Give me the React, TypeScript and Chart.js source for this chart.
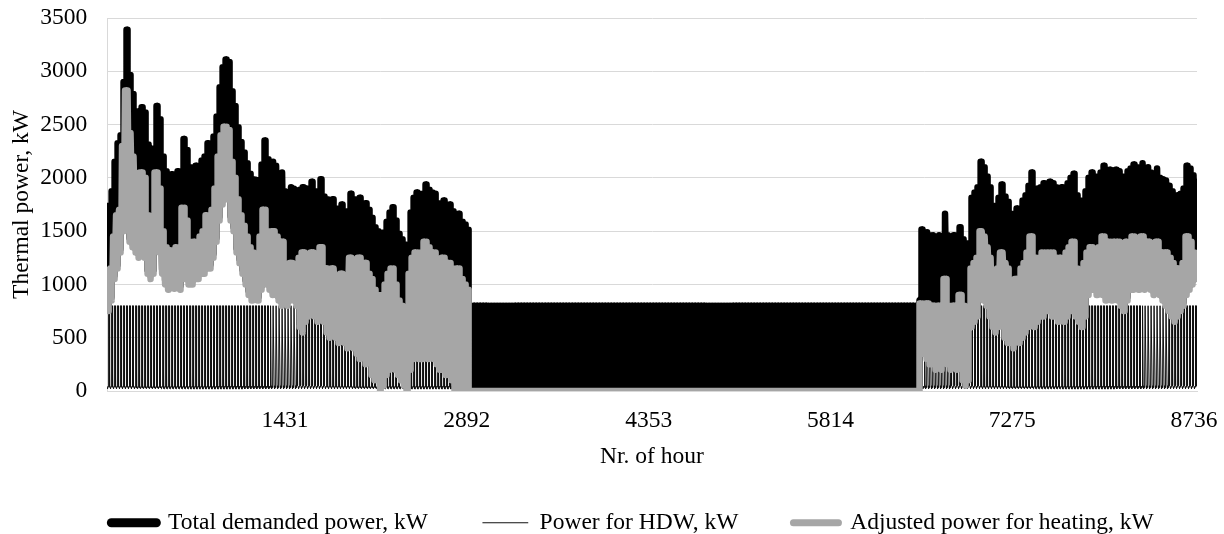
import { useEffect, useRef } from 'react';
import { Chart, registerables } from 'chart.js';

Chart.register(...registerables);

// ---- Data ----
const xTickHours = [1431, 2892, 4353, 5814, 7275, 8736];
const yMax = 3500;
const yStep = 500;
const hoursInYear = 8760;

// Typical daily profile of hot domestic water demand, kW (hour 0..23)
const hdwDayProfile = [30, 25, 20, 20, 20, 25, 30, 40, 40, 35, 40, 45, 40, 35, 800, 800, 800, 800, 800, 800, 800, 800, 50, 40];
// Share of the daily heating swing (0 = daily low, 1 = daily high) for each hour of the day
const heatDayShape = [1, 1, 1, 1, 1, 1, 1, 1, 1, 1, 0, 0, 0, 0, 0.75, 0.75, 0.75, 0.75, 0.75, 0.75, 0.75, 0.75, 1, 1];

// Heating season 1: days 0..120 (daily low / high heating power, kW)
const winterHeatLow = [
  750, 850, 1050, 1150, 1300, 1500, 1900, 1400, 1350, 1300,
  1250, 1300, 1250, 1100, 1050, 1100, 1350, 1300, 1100, 1000,
  950, 980, 960, 1000, 950, 1100, 1050, 1000, 1000, 1050,
  1050, 1100, 1100, 1150, 1150, 1250, 1400, 1600, 1750, 1800,
  1800, 1600, 1500, 1300, 1200, 1100, 1000, 900, 850, 880,
  850, 950, 1100, 1000, 950, 900, 900, 850, 800, 850,
  800, 850, 850, 800, 600, 550, 650, 700, 750, 700,
  650, 700, 650, 550, 500, 550, 500, 450, 500, 450,
  400, 450, 400, 350, 300, 350, 250, 300, 150, 100,
  100, 0, 50, 150, 200, 250, 200, 150, 100, 50,
  0, 200, 300, 350, 300, 300, 350, 300, 350, 300,
  250, 200, 200, 150, 200, 100, 0, 0, 0, 50,
  0,
];
const winterHeatHigh = [
  1000, 1150, 1450, 1650, 1700, 2300, 2820, 2420, 2200, 2000,
  1900, 2050, 2000, 1650, 1550, 1600, 2050, 1900, 1500, 1350,
  1300, 1320, 1300, 1350, 1300, 1720, 1600, 1400, 1350, 1400,
  1380, 1450, 1500, 1650, 1550, 1700, 1900, 2200, 2400, 2480,
  2450, 2150, 2000, 1800, 1650, 1550, 1450, 1350, 1300, 1280,
  1250, 1450, 1700, 1500, 1450, 1500, 1450, 1350, 1400, 1150,
  1150, 1200, 1180, 1150, 1250, 1300, 1250, 1200, 1300, 1200,
  1150, 1350, 1150, 1150, 1100, 1150, 1050, 1000, 1100, 1000,
  1050, 1250, 1200, 1150, 1250, 1150, 1200, 1100, 1050, 950,
  900, 850, 900, 1000, 1100, 1150, 1000, 850, 800, 750,
  750, 1100, 1250, 1300, 1250, 1300, 1400, 1350, 1300, 1300,
  1200, 1200, 1250, 1150, 1200, 1150, 1100, 1150, 1050, 1000,
  950,
];

// Heating season 2: days 272..364 (daily low / high heating power, kW)
const autumnStartDay = 272;
const autumnHeatLow = [
  400, 350, 300, 250, 250, 200, 250, 200, 300, 250,
  200, 250, 200, 250, 100, 50, 100, 600, 650, 700,
  900, 850, 800, 700, 600, 550, 600, 650, 500, 450,
  450, 400, 500, 450, 500, 550, 600, 650, 600, 650,
  700, 700, 750, 750, 700, 700, 650, 700, 650, 700,
  750, 750, 700, 650, 600, 700, 900, 950, 950, 900,
  950, 900, 850, 900, 850, 900, 850, 800, 750, 850,
  950, 950, 1000, 950, 1000, 950, 1000, 950, 900, 950,
  900, 850, 800, 750, 700, 650, 700, 750, 800, 900,
  950, 1000, 1050,
];
const autumnHeatHigh = [
  820, 800, 820, 800, 800, 780, 800, 780, 1050, 800,
  780, 800, 750, 900, 800, 700, 750, 1150, 1200, 1250,
  1500, 1450, 1350, 1250, 1050, 1000, 1150, 1300, 1200, 1150,
  1000, 950, 1050, 1000, 1150, 1200, 1300, 1450, 1250, 1250,
  1250, 1300, 1250, 1300, 1300, 1250, 1250, 1250, 1250, 1300,
  1350, 1400, 1150, 1100, 1100, 1200, 1300, 1350, 1300, 1300,
  1350, 1450, 1400, 1400, 1350, 1400, 1400, 1350, 1350, 1400,
  1400, 1450, 1400, 1400, 1450, 1350, 1400, 1350, 1350, 1400,
  1300, 1300, 1300, 1250, 1200, 1100, 1150, 1150, 1200, 1450,
  1400, 1300, 1200,
];

const seriesLabels = ['Total demanded power, kW', 'Power for HDW, kW', 'Adjusted power for heating, kW'];
const seriesColors = ['#000000', '#111111', '#a6a6a6'];

// ---- Build hourly table from the daily readings ----
function heatingAt(day: number, hour: number): number {
  let lo: number;
  let hi: number;
  if (day < winterHeatLow.length) {
    lo = winterHeatLow[day];
    hi = winterHeatHigh[day];
  } else if (day >= autumnStartDay && day - autumnStartDay < autumnHeatLow.length) {
    lo = autumnHeatLow[day - autumnStartDay];
    hi = autumnHeatHigh[day - autumnStartDay];
  } else {
    return 0;
  }
  return lo + (hi - lo) * heatDayShape[hour];
}

function buildSeries() {
  const total: { x: number; y: number }[] = [];
  const hdw: { x: number; y: number }[] = [];
  const heat: { x: number; y: number }[] = [];
  for (let h = 0; h < hoursInYear; h++) {
    const day = Math.floor(h / 24);
    const hour = h % 24;
    const q = heatingAt(day, hour);
    const w = hdwDayProfile[hour];
    total.push({ x: h + 1, y: q + w });
    hdw.push({ x: h + 1, y: w });
    heat.push({ x: h + 1, y: q });
  }
  return { total, hdw, heat };
}

const FONT = { family: "'Liberation Serif', 'Times New Roman', serif", size: 23.5 };
const Y_AXIS_WIDTH = 103;
const X_AXIS_HEIGHT = 84;
const LEGEND_HEIGHT = 59;
const LEGEND_DX = 32;
const LEGEND_DY = -19;

const legendTweak = {
  id: 'legendTweak',
  beforeInit(chart: any) {
    const lg = chart.legend;
    if (!lg) return;
    const orig = lg.fit;
    lg.fit = function () {
      orig.call(this);
      this.height = LEGEND_HEIGHT;
    };
  },
  afterLayout(chart: any) {
    const lg = chart.legend;
    if (!lg) return;
    lg.left += LEGEND_DX;
    lg.right += LEGEND_DX;
    lg.top += LEGEND_DY;
  },
};

export default function App() {
  const canvasRef = useRef<HTMLCanvasElement | null>(null);

  useEffect(() => {
    const canvas = canvasRef.current;
    if (!canvas) return;
    const { total, hdw, heat } = buildSeries();
    const legendWidths = [9, 1, 7];

    const chart = new Chart(canvas, {
      type: 'line',
      data: {
        datasets: [
          {
            label: seriesLabels[0],
            data: total,
            borderColor: seriesColors[0],
            backgroundColor: seriesColors[0],
            borderWidth: 6.5,
            pointRadius: 0,
            pointStyle: 'line',
            borderJoinStyle: 'round',
            borderCapStyle: 'round',
            order: 1,
          },
          {
            label: seriesLabels[1],
            data: hdw,
            borderColor: seriesColors[1],
            backgroundColor: seriesColors[1],
            borderWidth: 1,
            pointRadius: 0,
            pointStyle: 'line',
            borderJoinStyle: 'round',
            order: 2,
          },
          {
            label: seriesLabels[2],
            data: heat,
            borderColor: seriesColors[2],
            backgroundColor: seriesColors[2],
            borderWidth: 6.5,
            pointRadius: 0,
            pointStyle: 'line',
            borderJoinStyle: 'round',
            borderCapStyle: 'round',
            order: 0,
          },
        ],
      },
      options: {
        animation: false,
        responsive: true,
        maintainAspectRatio: false,
        parsing: false,
        normalized: true,
        events: [],
        layout: { padding: { left: 4, right: 27, top: 18, bottom: 0 } },
        scales: {
          x: {
            type: 'linear',
            min: 0,
            max: hoursInYear,
            afterBuildTicks: (scale: any) => {
              scale.ticks = xTickHours.map((v) => ({ value: v }));
            },
            afterFit: (scale: any) => {
              scale.height = X_AXIS_HEIGHT;
              scale.paddingLeft = 0;
              scale.paddingRight = 0;
            },
            grid: { display: false, drawTicks: false },
            border: { display: true, color: '#d9d9d9', width: 1 },
            ticks: {
              font: FONT,
              color: '#000',
              padding: 15.9,
              maxRotation: 0,
              autoSkip: false,
              callback: (v: any) => String(v),
            },
            title: {
              display: true,
              text: 'Nr. of hour',
              font: FONT,
              color: '#000',
              padding: { top: 4, bottom: 4 },
            },
          },
          y: {
            min: 0,
            max: yMax,
            afterFit: (scale: any) => {
              scale.width = Y_AXIS_WIDTH;
              scale.paddingTop = 0;
              scale.paddingBottom = 0;
            },
            ticks: {
              stepSize: yStep,
              font: FONT,
              color: '#000',
              padding: 19.8,
              callback: (v: any) => String(v),
            },
            grid: { color: '#d9d9d9', drawTicks: false },
            border: { display: true, color: '#d9d9d9', width: 1 },
            title: {
              display: true,
              text: 'Thermal power, kW',
              font: FONT,
              color: '#000',
              padding: { top: 4, bottom: 4 },
            },
          },
        },
        plugins: {
          legend: {
            position: 'bottom',
            labels: {
              usePointStyle: true,
              pointStyleWidth: 45,
              padding: 55,
              font: FONT,
              color: '#000',
              sort: (a: any, b: any) => a.datasetIndex - b.datasetIndex,
              generateLabels: (ch: any) => {
                const items = Chart.defaults.plugins.legend.labels.generateLabels(ch);
                return items.map((it: any) => ({
                  ...it,
                  pointStyle: 'line',
                  lineWidth: legendWidths[it.datasetIndex],
                  lineCap: 'round',
                  strokeStyle: seriesColors[it.datasetIndex],
                  fillStyle: seriesColors[it.datasetIndex],
                }));
              },
            },
          },
          tooltip: { enabled: false },
        },
      },
      plugins: [legendTweak],
    } as any);

    return () => chart.destroy();
  }, []);

  return (
    <div style={{ position: 'fixed', left: 0, top: 0, width: 1224, height: 534, background: '#fff' }}>
      <canvas ref={canvasRef} />
    </div>
  );
}
